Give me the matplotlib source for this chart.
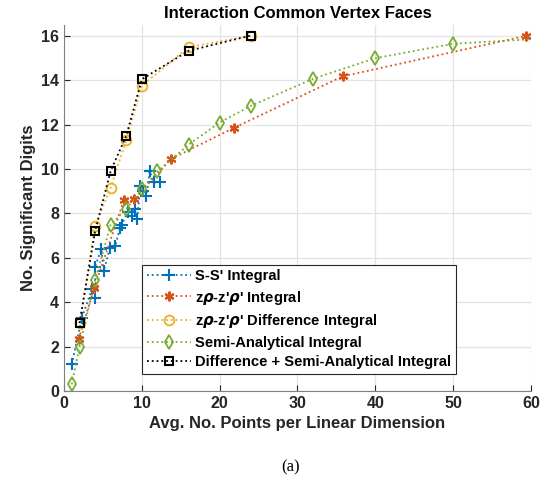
import matplotlib.pyplot as plt

plt.rcParams['font.family'] = ['Liberation Sans', 'DejaVu Sans']
plt.rcParams['font.weight'] = 'bold'

# data
ss_x = [1.0, 2.3, 3.6, 4.0, 4.0, 4.8, 5.1, 5.9, 6.6, 7.2, 7.4, 8.2, 8.7, 9.1, 9.4,
        9.8, 10.2, 10.6, 11.0, 11.6, 12.3]
ss_y = [1.2, 3.3, 4.6, 4.2, 5.6, 6.4, 5.4, 6.45, 6.55, 7.35, 7.5, 8.05, 7.9, 8.2, 7.75,
        9.25, 9.0, 8.8, 9.9, 9.4, 9.4]

zr_x = [1.9, 3.9, 7.7, 9.0, 13.8, 21.9, 35.8, 59.3]
zr_y = [2.35, 4.65, 8.6, 8.65, 10.47, 11.87, 14.18, 16.0]

zrd_x = [2, 4, 6, 8, 10, 16, 24]
zrd_y = [3.06, 7.45, 9.17, 11.3, 13.75, 15.5, 16.0]

sa_x = [1, 2, 4, 6, 8, 10, 12, 16, 20, 24, 32, 40, 50, 60]
sa_y = [0.3, 2.0, 5.0, 7.5, 8.2, 9.1, 9.9, 11.1, 12.1, 12.85, 14.07, 15.0, 15.65, 15.85]

dsa_x = [2, 4, 6, 8, 10, 16, 24]
dsa_y = [3.06, 7.2, 9.92, 11.5, 14.05, 15.33, 16.02]

labels = ["S-S' Integral",
          r"z$\rho$-z'$\rho$' Integral",
          r"z$\rho$-z'$\rho$' Difference Integral",
          "Semi-Analytical Integral",
          "Difference + Semi-Analytical Integral"]

fig = plt.figure(figsize=(5.53, 4.83), dpi=100)
ax = fig.add_axes([0.1157, 0.1905, 0.8445, 0.758])

ax.plot(ss_x, ss_y, ':', color='#0072BD', marker='+', ms=8, mew=1.5, lw=1.3, label=labels[0])
ax.plot(zr_x, zr_y, ':', color='#D95319', marker=(6, 2, 0), ms=7, mew=1.5, lw=1.3, label=labels[1])
ax.plot(zrd_x, zrd_y, ':', color='#EDB120', marker='o', ms=7, mfc='none', mew=1.3, lw=1.3, label=labels[2])
ax.plot(sa_x, sa_y, ':', color='#77AC30', marker='d', ms=7, mfc='none', mew=1.3, lw=1.3,
        markevery=list(range(len(sa_x) - 1)), label=labels[3])
ax.plot(dsa_x, dsa_y, ':', color='black', marker='s', ms=6, mfc='none', mew=1.5, lw=1.3, label=labels[4])

ax.set_xlim(0, 60)
ax.set_ylim(0, 16.5)
ax.set_xticks(range(0, 61, 10))
ax.set_yticks(range(0, 17, 2))
ax.grid(True, color='#e3e3e3', lw=0.9)
ax.set_axisbelow(True)
ax.tick_params(direction='in', labelsize=11.5, colors='#262626', length=4)
for s in ['top', 'right']:
    ax.spines[s].set_visible(False)
for s in ['left', 'bottom']:
    ax.spines[s].set_color('#808080')

ax.set_title("Interaction Common Vertex Faces", fontsize=12, fontweight='bold', pad=5)
ax.set_xlabel("Avg. No. Points per Linear Dimension", fontsize=12, fontweight='bold', color='#262626')
ax.set_ylabel("No. Significant Digits", fontsize=12, fontweight='bold', color='#262626')

leg = ax.legend(loc='lower left', bbox_to_anchor=(0.152, 0.027), fontsize=10.6,
                handlelength=3, fancybox=False, framealpha=1, edgecolor='#262626',
                borderpad=0.3, labelspacing=0.38, handletextpad=0.3)
leg.get_frame().set_linewidth(0.8)

fig.text(0.525, 0.025, "(a)", fontsize=12, fontweight='normal',
         family='Liberation Serif', ha='center')

fig.savefig("out.png", dpi=100)
